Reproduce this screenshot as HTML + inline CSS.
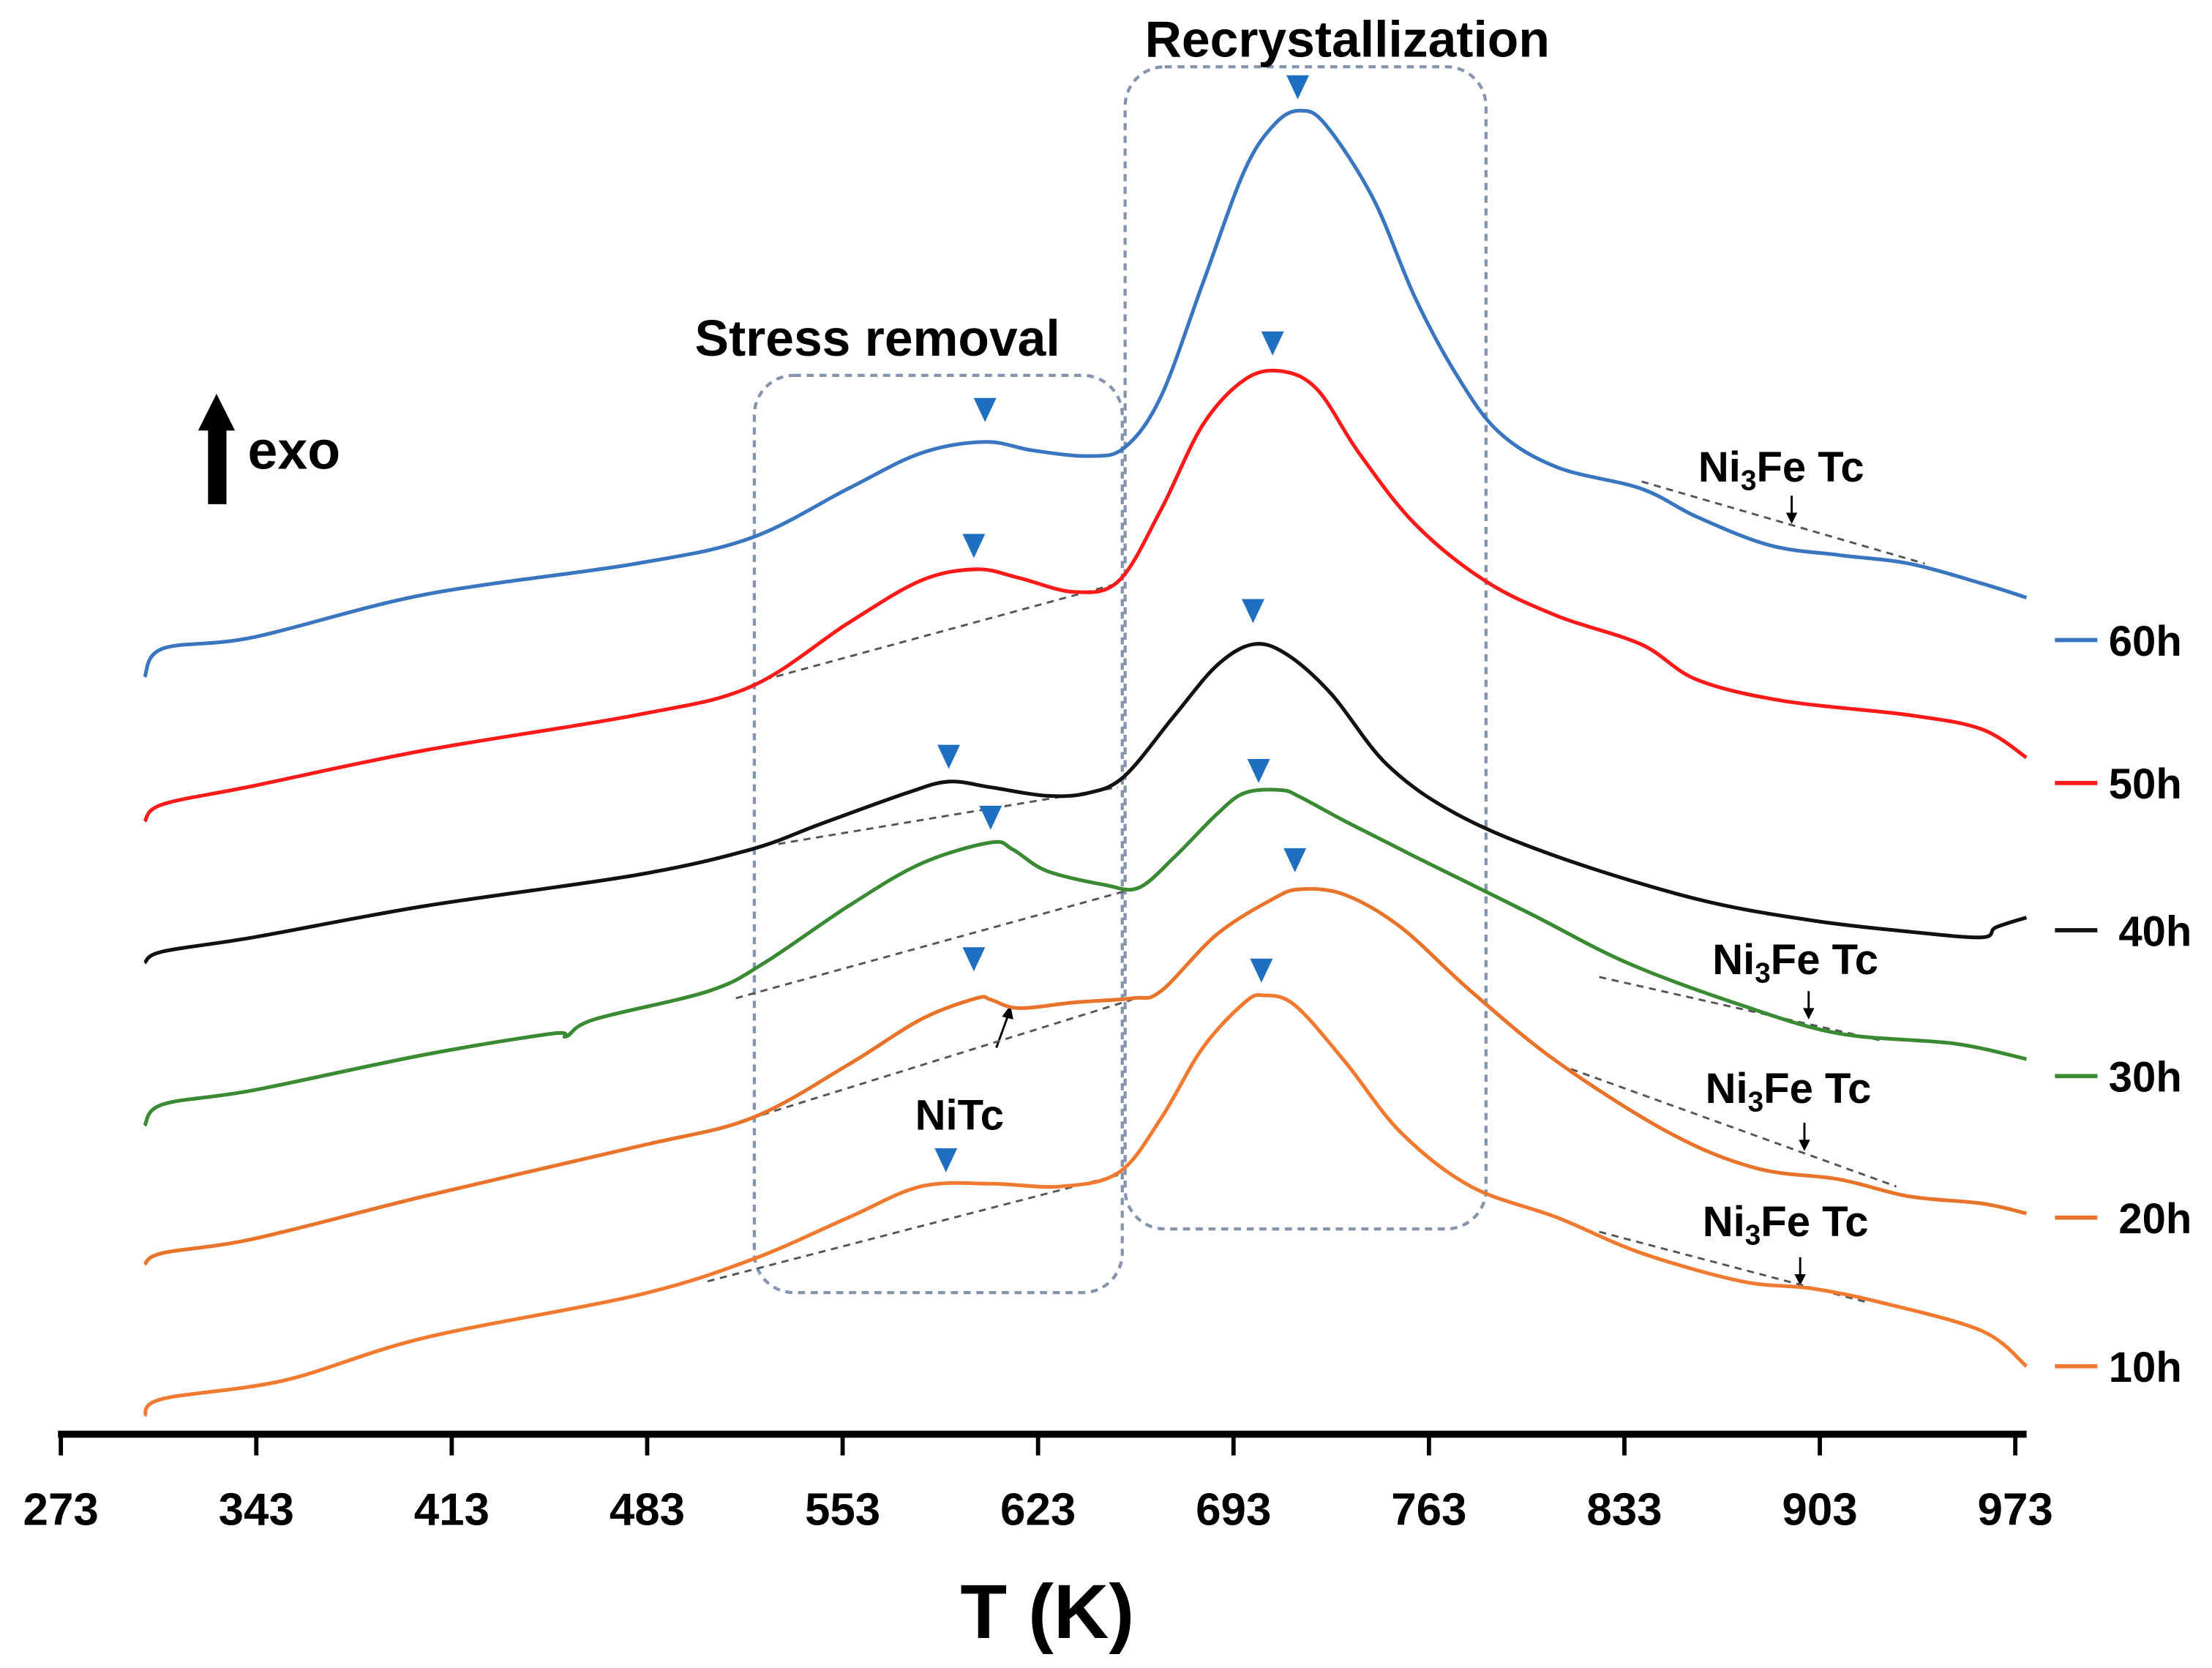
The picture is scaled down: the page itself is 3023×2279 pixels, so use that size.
<!DOCTYPE html>
<html><head><meta charset="utf-8"><style>
html,body{margin:0;padding:0;background:#fff;}
svg{display:block;}
text{font-family:"Liberation Sans Narrow","Liberation Sans",sans-serif;font-weight:bold;fill:#000;}
</style></head><body>
<svg id="chart" width="3023" height="2279" viewBox="0 0 1563 1178" xmlns="http://www.w3.org/2000/svg">
<g id="annot">
  <rect x="533" y="265" width="260" height="648" rx="28" fill="none" stroke="#8494ac" stroke-width="2.2" stroke-dasharray="5,4"/>
  <rect x="795" y="47" width="255" height="821" rx="28" fill="none" stroke="#8494ac" stroke-width="2.2" stroke-dasharray="5,4"/>
  <text x="952" y="40" font-size="36" text-anchor="middle">Recrystallization</text>
  <text x="620" y="251" font-size="36" text-anchor="middle">Stress removal</text>
  <g>
    <rect x="147" y="300" width="13" height="56" fill="#000"/>
    <polygon points="140,304 153,278 166,304" fill="#000"/>
  </g>
  <text x="175" y="331" font-size="38">exo</text>
  <text x="1200" y="340" font-size="30">Ni<tspan font-size="20" dy="6">3</tspan><tspan dy="-6">Fe Tc</tspan></text>
  <text x="1210" y="688" font-size="30">Ni<tspan font-size="20" dy="6">3</tspan><tspan dy="-6">Fe Tc</tspan></text>
  <text x="1205" y="779" font-size="30">Ni<tspan font-size="20" dy="6">3</tspan><tspan dy="-6">Fe Tc</tspan></text>
  <text x="1203" y="873" font-size="30">Ni<tspan font-size="20" dy="6">3</tspan><tspan dy="-6">Fe Tc</tspan></text>
  <text x="678" y="798" font-size="30" text-anchor="middle">NiTc</text>
  <g stroke="#000" stroke-width="1.5" fill="#000">
    <line x1="1266" y1="350" x2="1266" y2="364"/><polygon points="1262,362 1270,362 1266,370" stroke="none"/>
    <line x1="1278" y1="700" x2="1278" y2="714"/><polygon points="1274,712 1282,712 1278,720" stroke="none"/>
    <line x1="1275" y1="793" x2="1275" y2="807"/><polygon points="1271,805 1279,805 1275,813" stroke="none"/>
    <line x1="1272" y1="888" x2="1272" y2="902"/><polygon points="1268,900 1276,900 1272,908" stroke="none"/>
    <line x1="704" y1="740" x2="712" y2="718"/><polygon points="708,718 716,720 714,710" stroke="none"/>
  </g>
  <g stroke="#555" stroke-width="1.5" stroke-dasharray="5,4" fill="none">
    <line x1="540" y1="480" x2="790" y2="412"/>
    <line x1="550" y1="596" x2="790" y2="556"/>
    <line x1="520" y1="705" x2="800" y2="628"/>
    <line x1="530" y1="790" x2="800" y2="706"/>
    <line x1="500" y1="905" x2="790" y2="830"/>
    <line x1="1160" y1="340" x2="1360" y2="398"/>
    <line x1="1130" y1="690" x2="1330" y2="735"/>
    <line x1="1110" y1="755" x2="1340" y2="838"/>
    <line x1="1130" y1="870" x2="1320" y2="920"/>
  </g>
</g>
<g id="axis"></g>
<g id="series"></g>
<g id="markers"></g>
<g id="legend"></g>
<text x="740" y="1157" font-size="54" text-anchor="middle">T (K)</text>
</svg>
<script>
const ticks = [273,343,413,483,553,623,693,763,833,903,973];
const seriesNames = ["60h","50h","40h","30h","20h","10h"];
const seriesColors = ["#3a76c0","#ff1a1a","#111111","#3a8a34","#e8732a","#f07a30"];
const T60 = [303,309.5,342,403,479,520,555,581,604,621,641,654,667,682,697,708,717,726,743,758,773,788,809,839,859,885,910,935,961,977];
const V60 = [535,555,563,593,615,633,668,693,701,695,691,697,733,813,893,926,935,925,873,803,748,708,683,668,648,628,621,615,601,591];
const T50 = [303,309.5,342,403,479,520,555,581,601,616,636,652,667,682,697,710,723,738,758,783,809,839,859,890,935,961,977];
const V50 = [433,445,458,483,508,528,573,603,611,605,595,603,653,713,745,751,738,693,643,603,578,558,533,518,508,498,478];
const T40 = [303,309.5,342,403,479,520,545,576,591,606,626,641,654,672,687,700,712,728,748,773,809,859,900,935,961,966,977];
const V40 = [333,341,351,373,395,413,431,453,461,457,451,453,465,508,543,558,551,523,473,438,408,378,363,355,351,358,365];
const T30 = [303,309.5,342,403,449,454,464,505,525,555,581,606,614,626,647,659,672,687,697,710,717,733,758,799,834,875,910,951,977];
const V30 = [218,233,243,268,283,281,293,313,333,373,403,418,413,398,388,386,408,438,453,455,450,433,408,368,333,303,283,276,265];
const T20 = [303,309.5,342,403,479,520,555,581,601,606,616,636,657,667,687,707,717,733,753,778,809,849,880,910,935,961,977];
const V20 = [120,128,138,168,203,223,261,293,308,307,301,305,308,313,353,378,385,381,358,313,263,213,188,180,168,163,156];
const T10 = [303,309.5,353,403,479,520,555,581,606,631,652,667,682,697,704,715,733,753,778,809,839,875,900,925,961,977];
const V10 = [13,25,38,68,98,123,153,175,177,175,185,223,273,305,310,303,263,213,175,153,128,108,103,93,73,48];
const seriesT = [T60,T50,T40,T30,T20,T10];
const seriesV = [V60,V50,V40,V30,V20,V10];
const peakT = [716,707,604,600,700,591,606,702,715,600,703,590];
const peakV = [943,762,715,619,573,470,427,460,397,327,319,185];

const NS="http://www.w3.org/2000/svg";
const x0=43, x1=1424, yAxis=1013;
function xScale(t){return x0+(t-273)*(x1-x0)/700;}
function yScale(v){return yAxis-v;}
function mk(tag,attrs,parent){const e=document.createElementNS(NS,tag);for(const k in attrs)e.setAttribute(k,attrs[k]);parent.appendChild(e);return e;}

const ax=document.getElementById('axis');
let line=mk('line',{x1:x0-2,y1:yAxis,x2:1432,y2:yAxis,stroke:'#000','stroke-width':5},ax);


ticks.forEach(t=>{
  const tk=mk('line',{x1:xScale(t),y1:yAxis,x2:xScale(t),y2:yAxis+15,stroke:'#000','stroke-width':3},ax);
  
  
  const lb=mk('text',{x:xScale(t),y:yAxis+64,'font-size':32,'text-anchor':'middle'},ax);
  lb.textContent=t;
  
  
});

const sg=document.getElementById('series');
seriesNames.forEach((n,i)=>{
  const T=seriesT[i],V=seriesV[i];
  const pts=T.map((t,j)=>[xScale(t),yScale(V[j])]);
  let d='M'+pts[0][0]+','+pts[0][1];
  for(let j=0;j<pts.length-1;j++){
    const p0=pts[j-1]||pts[j],p1=pts[j],p2=pts[j+1],p3=pts[j+2]||p2;
    const c1=[p1[0]+(p2[0]-p0[0])/6,p1[1]+(p2[1]-p0[1])/6];
    const c2=[p2[0]-(p3[0]-p1[0])/6,p2[1]-(p3[1]-p1[1])/6];
    d+=' C'+c1[0]+','+c1[1]+' '+c2[0]+','+c2[1]+' '+p2[0]+','+p2[1];
  }
  const p=mk('path',{d:d,fill:'none',stroke:seriesColors[i],'stroke-width':2.6},sg);
  
  
});

const mg=document.getElementById('markers');
peakT.forEach((t,i)=>{
  const x=xScale(t),y=yScale(peakV[i]);
  const m=mk('polygon',{points:(x-8)+','+(y-17)+' '+(x+8)+','+(y-17)+' '+x+','+y,fill:'#1f6fc0'},mg);
  
  
});

const lg=document.getElementById('legend');
const legY=[452,553,657,760,860,965];
seriesNames.forEach((n,i)=>{
  const l=mk('line',{x1:1452,y1:legY[i],x2:1482,y2:legY[i],stroke:seriesColors[i],'stroke-width':3},lg);
  
  
  const tx=mk('text',{x:(n==='40h'||n==='20h')?1497:1490,y:legY[i]+11,'font-size':30},lg);
  tx.textContent=n;
  
  
});
</script>
</body></html>
